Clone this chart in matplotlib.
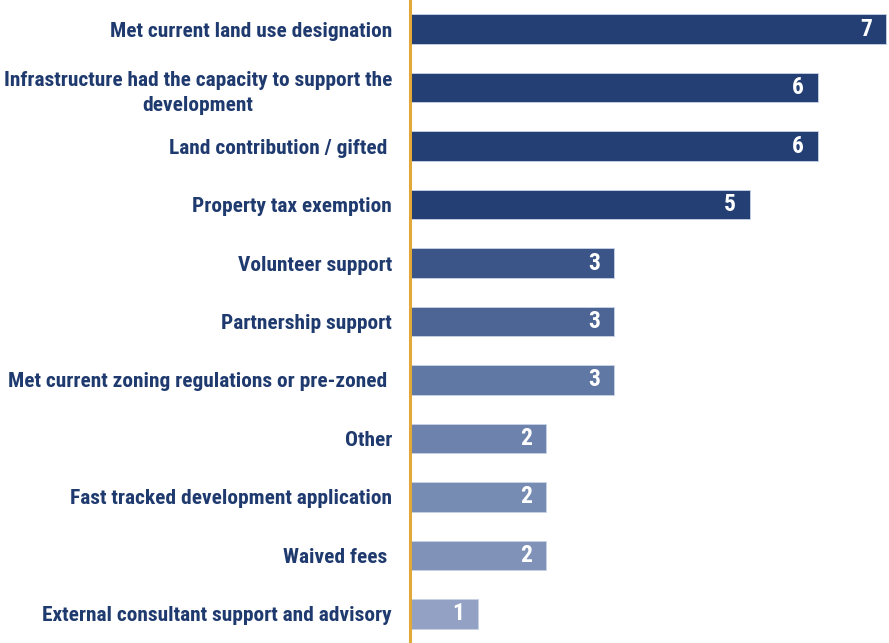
import matplotlib
matplotlib.use("Agg")
import matplotlib.pyplot as plt
from matplotlib import font_manager
from matplotlib.font_manager import FontProperties

categories = [
    "Met current land use designation",
    "Infrastructure had the capacity to support the\ndevelopment",
    "Land contribution / gifted ",
    "Property tax exemption",
    "Volunteer support",
    "Partnership support",
    "Met current zoning regulations or pre-zoned ",
    "Other",
    "Fast tracked development application",
    "Waived fees ",
    "External consultant support and advisory",
]
values = [7, 6, 6, 5, 3, 3, 3, 2, 2, 2, 1]
bar_colors = [
    "#233F74", "#233F74", "#233F74", "#233F74",
    "#3B5588", "#4C6595", "#5F78A4",
    "#6D83AD", "#778CB3", "#8192B8", "#93A2C4",
]


def pick_condensed_bold():
    """Find a narrow/condensed bold face among the installed fonts."""
    wanted = ["LiberationSansNarrow-Bold", "RobotoCondensed-Bold", "OpenSans_Condensed-Bold",
              "OpenSansCondensed-Bold", "DejaVuSansCondensed-Bold", "NotoSans-CondensedBold"]
    files = font_manager.findSystemFonts()
    for w in wanted:
        for f in files:
            base = f.replace("\\", "/").split("/")[-1]
            if base.lower().startswith(w.lower()):
                return FontProperties(fname=f)
    for f in files:
        low = f.lower()
        if ("condensed" in low or "narrow" in low) and "bold" in low and "italic" not in low:
            return FontProperties(fname=f)
    return FontProperties(family="DejaVu Sans", weight="bold", stretch="condensed")


label_font = pick_condensed_bold()

text_color = "#1F3A6E"
W, H = 889, 643
fig = plt.figure(figsize=(W / 100, H / 100), dpi=100)
ax = fig.add_axes([410 / W, 0, (W - 410) / W, 1])

# size the labels so the widest line spans about 388 px
renderer = fig.canvas.get_renderer()
probe = fig.text(0, 0, "Infrastructure had the capacity to support the", fontproperties=label_font)
probe.set_fontsize(16)
width = probe.get_window_extent(renderer).width
probe.remove()
label_size = min(18, 16 * 388 / width)

ypos = list(range(len(values)))
ax.barh(ypos, values, height=0.5, color=bar_colors, edgecolor="#c9d3e6", linewidth=0.6)

ax.set_xlim(0, (W - 410) / 68)
ax.set_ylim(10.496, -0.496)

for y, v in zip(ypos, values):
    t = ax.annotate(str(v), xy=(v, y), xytext=(-10, 0), textcoords="offset points",
                    ha="right", va="center", color="white", fontproperties=label_font)
    t.set_fontsize(label_size * 1.1)

ax.set_yticks(ypos)
ax.set_yticklabels(categories, color=text_color, multialignment="center",
                   linespacing=1.45)
for lab in ax.get_yticklabels():
    lab.set_fontproperties(label_font)
    lab.set_fontsize(label_size)
ax.tick_params(axis="y", length=0, pad=13)
ax.set_xticks([])

for side in ["top", "right", "bottom"]:
    ax.spines[side].set_visible(False)
ax.spines["left"].set_color("#E3A83A")
ax.spines["left"].set_linewidth(2.2)

fig.savefig("out.png", dpi=100)
